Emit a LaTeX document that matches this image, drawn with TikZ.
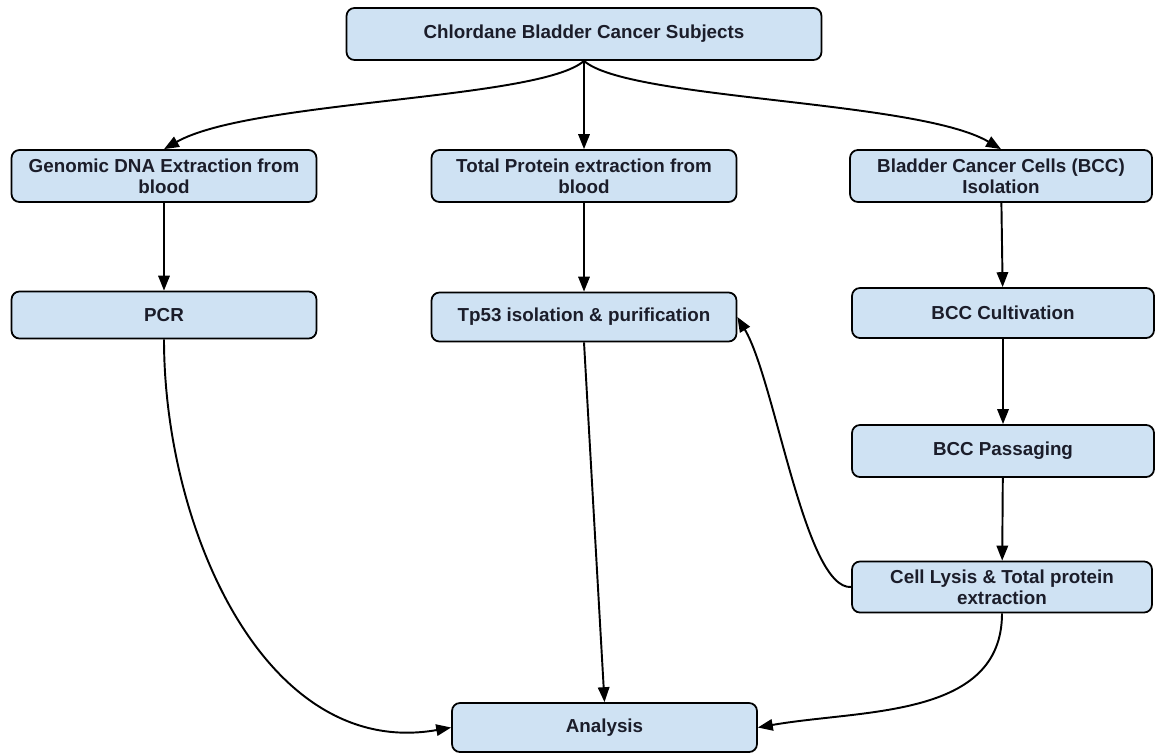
\documentclass[tikz,border=0pt]{standalone}
\usepackage{fontspec}
\setmainfont{Liberation Sans}
\usetikzlibrary{arrows.meta}
\definecolor{boxblue}{HTML}{CFE2F3}
\definecolor{boxtext}{HTML}{1B1D2A}
\tikzset{
  stepbox/.style={draw=black,line width=1pt,fill=boxblue,rounded corners=4.5pt,
    text=boxtext,font=\bfseries\fontsize{10.7}{12}\selectfont,align=center,
    minimum width=6.1cm,minimum height=1.0cm,inner sep=2pt},
  flow/.style={line width=1.1pt,-{Triangle[length=8.5pt,width=6.5pt]}}
}
\begin{document}
\begin{tikzpicture}[x=0.02cm,y=-0.02cm]
\useasboundingbox (0,0) rectangle (1155,753);
\node[stepbox,minimum width=9.5cm,minimum height=1.04cm] (subj) at (584,34) {Chlordane Bladder Cancer Subjects};
\node[stepbox,minimum height=1.04cm] (dna) at (164,176) {Genomic DNA Extraction from\\blood};
\node[stepbox,minimum height=1.04cm] (prot) at (584,176) {Total Protein extraction from\\blood};
\node[stepbox,minimum width=6.04cm,minimum height=1.04cm] (bcc) at (1001,176) {Bladder Cancer Cells (BCC)\\Isolation};
\node[stepbox,minimum height=0.94cm] (pcr) at (164,315) {PCR};
\node[stepbox,minimum height=0.98cm] (tp) at (584,317) {Tp53 isolation \& purification};
\node[stepbox,minimum width=6.04cm] (cult) at (1003,313) {BCC Cultivation};
\node[stepbox,minimum width=6.04cm,minimum height=1.04cm] (pass) at (1003,451) {BCC Passaging};
\node[stepbox,minimum width=6.0cm,minimum height=1.02cm] (lysis) at (1002,587) {Cell Lysis \& Total protein\\extraction};
\node[stepbox,minimum height=0.98cm] (ana) at (604.5,727.5) {Analysis};
% from subjects
\draw[flow] (subj.south) .. controls (540,100) and (250,100) .. (dna.north);
\draw[flow] (subj.south) -- (prot.north);
\draw[flow] (subj.south) .. controls (628,100) and (918,100) .. (bcc.north);
% columns
\draw[flow] (dna) -- (pcr);
\draw[flow] (prot) -- (tp);
\draw[flow] (bcc) -- (cult);
\draw[flow] (cult) -- (pass);
\draw[flow] (pass) -- (lysis);
% to analysis
\draw[flow] (pcr.south) to[out=-90,in=190] (ana.west);
\draw[flow] (tp.south) -- (ana.north);
\draw[flow] (lysis.south) to[out=-90,in=10] (ana.east);
\draw[flow] (lysis.west) .. controls (805,590) and (775,380) .. (tp.east);
\end{tikzpicture}
\end{document}
